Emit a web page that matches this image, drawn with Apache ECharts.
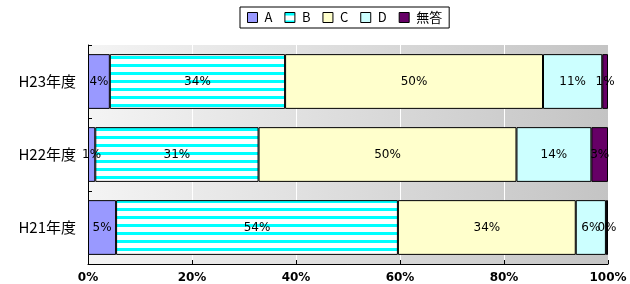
<!DOCTYPE html>
<html>
<head>
<meta charset="utf-8">
<script src="https://cdn.jsdelivr.net/npm/echarts@6/dist/echarts.min.js"></script>
<style>
  html, body { margin: 0; padding: 0; background: #fff; }
  #chart { width: 630px; height: 284px; }
</style>
</head>
<body>
<div id="chart"></div>
<script>
// 年度 (下から上)
var categories = ['H21年度', 'H22年度', 'H23年度'];
var seriesNames = ['A', 'B', 'C', 'D', '無答'];
var valA = [5.4, 1.4, 4.2];
var valB = [54.2, 31.4, 33.7];
var valC = [34.2, 49.6, 49.6];
var valD = [5.8, 14.4, 11.4];
var valNone = [0.4, 3.2, 1.1];
var xTicks = [0, 20, 40, 60, 80, 100];

// B の横縞パターン
var stripe = document.createElement('canvas');
stripe.width = 8;
stripe.height = 8;
var sctx = stripe.getContext('2d');
sctx.fillStyle = '#ffffff';
sctx.fillRect(0, 0, 8, 8);
sctx.fillStyle = '#00ffff';
sctx.fillRect(0, 0, 8, 3);

var colors = ['#9999ff', { image: stripe, repeat: 'repeat' }, '#ffffcc', '#ccffff', '#660066'];
var allData = [valA, valB, valC, valD, valNone];

var series = [];
for (var i = 0; i < seriesNames.length; i++) {
  series.push({
    name: seriesNames[i],
    type: 'bar',
    stack: 'total',
    barWidth: '75%',
    itemStyle: {
      color: colors[i],
      borderColor: '#000',
      borderWidth: 1
    },
    label: {
      show: true,
      position: 'inside',
      color: '#000',
      fontSize: 12,
      fontFamily: 'DejaVu Sans',
      formatter: function (p) {
        return Math.round(p.value) + '%';
      }
    },
    data: allData[i]
  });
}

var chart = echarts.init(document.getElementById('chart'));
chart.setOption({
  animation: false,
  color: colors,
  legend: {
    top: 7,
    left: 240,
    data: seriesNames,
    icon: 'rect',
    itemWidth: 10,
    itemHeight: 10,
    itemGap: 12,
    padding: [4, 7],
    borderColor: '#000',
    borderWidth: 1,
    itemStyle: { borderColor: '#000', borderWidth: 1 },
    textStyle: { color: '#000', fontSize: 13, fontFamily: 'Noto Sans CJK JP', padding: [0, 0, 0, 2] }
  },
  grid: {
    left: 88,
    right: 22,
    top: 45,
    bottom: 20,
    show: true,
    borderWidth: 0,
    backgroundColor: {
      type: 'linear', x: 0, y: 0, x2: 1, y2: 0,
      colorStops: [
        { offset: 0, color: '#f4f4f4' },
        { offset: 1, color: '#c4c4c4' }
      ]
    }
  },
  xAxis: {
    type: 'value',
    min: 0,
    max: 100,
    interval: 20,
    axisLine: { show: true, lineStyle: { color: '#000' } },
    axisTick: { show: true, inside: true, length: 4, lineStyle: { color: '#000' } },
    splitLine: { show: true, lineStyle: { color: '#ffffff', width: 1 } },
    axisLabel: {
      color: '#000',
      fontSize: 12,
      fontWeight: 'bold',
      fontFamily: 'DejaVu Sans',
      margin: 8,
      formatter: function (v) {
        return xTicks.indexOf(v) >= 0 ? v + '%' : '';
      }
    }
  },
  yAxis: {
    type: 'category',
    data: categories,
    axisLine: { show: true, lineStyle: { color: '#000' } },
    axisTick: { show: true, inside: true, length: 4, lineStyle: { color: '#000' } },
    axisLabel: {
      color: '#000',
      fontSize: 15,
      fontFamily: 'Noto Sans CJK JP',
      margin: 12
    }
  },
  series: series
});
</script>
</body>
</html>
